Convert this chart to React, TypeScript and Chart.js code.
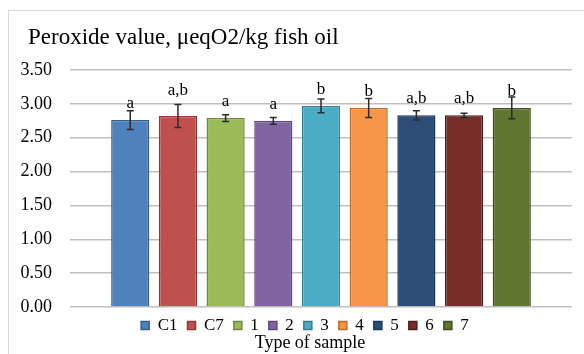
import React, { useEffect, useRef } from 'react';
import { Chart, registerables } from 'chart.js';

Chart.register(...registerables);

// ---- data ----
const SAMPLES = ['C1', 'C7', '1', '2', '3', '4', '5', '6', '7'];
const PEROXIDE = [2.76, 2.82, 2.79, 2.75, 2.97, 2.94, 2.83, 2.83, 2.94];
const ERRORS = [0.14, 0.17, 0.05, 0.05, 0.1, 0.14, 0.07, 0.03, 0.16];
const LETTERS = ['a', 'a,b', 'a', 'a', 'b', 'b', 'a,b', 'a,b', 'b'];
const Y_MIN = 0;
const Y_MAX = 3.5;
const Y_STEP = 0.5;
const TITLE = 'Peroxide value, \u03bceqO2/kg fish oil';
const X_TITLE = 'Type of sample';

// ---- styles ----
const FILLS = ['#4F81BD', '#C0504D', '#9BBB59', '#8064A2', '#4BACC6', '#F79646', '#2C4D75', '#772C2A', '#5F7530'];
const BORDERS = ['#385D8A', '#8C3836', '#71893F', '#5C4776', '#357D91', '#B66D31', '#1C3557', '#4F1C1B', '#3D4D1E'];
const LABEL_LIFT = [12, 21, 12, 12, 12, 12, 12, 12, 12];
const LEGEND_SHIFT = 11;
const SERIF = '"Liberation Serif", "Times New Roman", serif';

const decorPlugin = {
  id: 'decor',
  afterLayout(chart: any) {
    const lg = chart.legend;
    if (lg) {
      lg.left += LEGEND_SHIFT;
      lg.right += LEGEND_SHIFT;
    }
  },
  beforeDraw(chart: any) {
    const { ctx, width, height } = chart;
    ctx.save();
    ctx.fillStyle = '#ffffff';
    ctx.fillRect(0, 0, width, height);
    ctx.strokeStyle = '#d9d9d9';
    ctx.lineWidth = 1;
    ctx.strokeRect(8.5, 10.5, width + 20, height + 20);
    ctx.restore();
  },
  afterDatasetsDraw(chart: any) {
    const { ctx } = chart;
    const y = chart.scales.y;
    ctx.save();
    chart.data.datasets.forEach((_ds: any, i: number) => {
      const meta = chart.getDatasetMeta(i);
      const bar = meta.data[0];
      if (!bar) return;
      const x = bar.x;
      const v = PEROXIDE[i];
      const e = ERRORS[i];
      const yTop = y.getPixelForValue(v + e);
      const yBot = y.getPixelForValue(v - e);
      ctx.strokeStyle = '#2b2b2b';
      ctx.lineWidth = 1.5;
      ctx.beginPath();
      ctx.moveTo(x, yTop);
      ctx.lineTo(x, yBot);
      ctx.moveTo(x - 3.5, yTop);
      ctx.lineTo(x + 3.5, yTop);
      ctx.moveTo(x - 3.5, yBot);
      ctx.lineTo(x + 3.5, yBot);
      ctx.stroke();
      ctx.fillStyle = '#000000';
      ctx.font = `17px ${SERIF}`;
      ctx.textAlign = 'center';
      ctx.textBaseline = 'alphabetic';
      ctx.fillText(LETTERS[i], x, bar.y - LABEL_LIFT[i]);
    });
    ctx.restore();
  },
  afterDraw(chart: any) {
    const { ctx } = chart;
    ctx.save();
    ctx.fillStyle = '#000000';
    ctx.textBaseline = 'alphabetic';
    ctx.font = `23px ${SERIF}`;
    ctx.textAlign = 'left';
    ctx.fillText(TITLE, 28, 44);
    ctx.font = `18px ${SERIF}`;
    ctx.textAlign = 'center';
    ctx.fillText(X_TITLE, 310, 348);
    ctx.restore();
  },
};

export default function App() {
  const canvasRef = useRef<HTMLCanvasElement | null>(null);

  useEffect(() => {
    const canvas = canvasRef.current;
    if (!canvas) return;
    const chart = new Chart(canvas, {
      type: 'bar',
      data: {
        labels: [''],
        datasets: SAMPLES.map((name, i) => ({
          label: name,
          data: [PEROXIDE[i]],
          backgroundColor: FILLS[i],
          borderColor: BORDERS[i],
          borderWidth: 1.5,
          categoryPercentage: 0.855,
          barPercentage: 0.8,
        })),
      },
      options: {
        responsive: false,
        maintainAspectRatio: false,
        animation: false,
        devicePixelRatio: 1,
        layout: { padding: { top: 70, left: 16, right: 12, bottom: 10 } },
        plugins: {
          legend: {
            position: 'bottom',
            labels: {
              boxWidth: 8,
              boxHeight: 8,
              padding: 10,
              color: '#000000',
              font: { family: SERIF, size: 17 },
            },
          },
          title: { display: false },
          tooltip: { enabled: false },
        },
        scales: {
          x: { display: false },
          y: {
            min: Y_MIN,
            max: Y_MAX,
            ticks: {
              stepSize: Y_STEP,
              padding: 18,
              color: '#000000',
              font: { family: SERIF, size: 18 },
              callback: (v: any) => Number(v).toFixed(2),
            },
            grid: { color: '#bfbfbf', lineWidth: 1.5, drawTicks: false },
            border: { display: false },
            afterFit: (s: any) => {
              s.width = 54;
            },
          },
        },
      },
      plugins: [decorPlugin],
    } as any);
    return () => chart.destroy();
  }, []);

  return (
    <div style={{ position: 'fixed', left: 0, top: 0, width: 584, height: 354, background: '#fff' }}>
      <canvas ref={canvasRef} width={584} height={354} style={{ display: 'block' }} />
    </div>
  );
}
